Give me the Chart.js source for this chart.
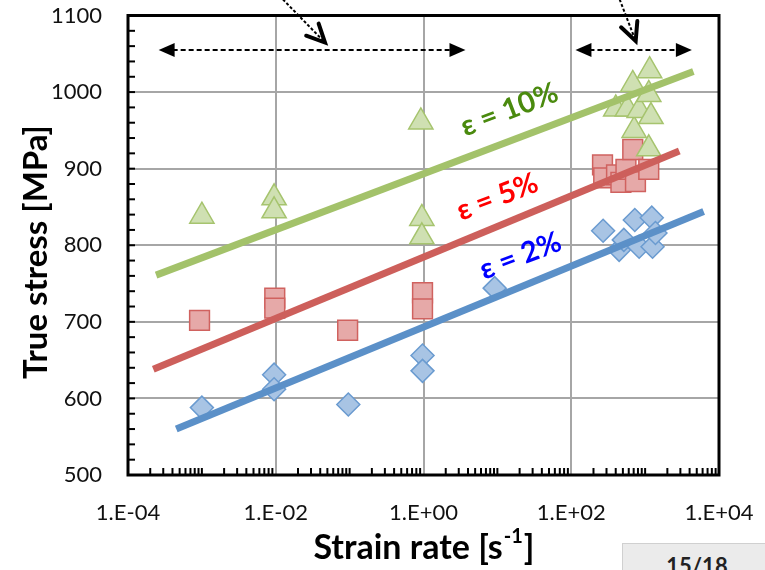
<!DOCTYPE html>
<html>
<head>
<meta charset="utf-8">
<script src="https://cdn.jsdelivr.net/npm/chart.js@4.4.1/dist/chart.umd.min.js"></script>
<style>
  html, body { margin: 0; padding: 0; background: #fff; }
  #cadre { position: relative; width: 765px; height: 570px; overflow: hidden; }
  #numeroPage {
    position: absolute; left: 622px; top: 543px; width: 150px; height: 40px;
    box-sizing: border-box; background: #ebebeb; border: 1px solid #d0d0d0;
    font: bold 22px Lato, sans-serif; color: #222; text-align: center; padding-top: 8px;
  }
</style>
</head>
<body>
<div id="cadre">
  <canvas id="myChartContrainte" width="765" height="570"></canvas>
  <div id="numeroPage">15/18</div>
</div>
<script>
//? Données (vitesse de déformation en s-1, contrainte en MPa).

//? ε = 2 % : losanges bleus.
const vitesse2 = [0.001, 0.0095, 0.0095, 0.096, 0.97, 0.97, 9.2, 270, 445, 515, 725, 830, 1230, 1260, 1380];
const contrainte2 = [588, 631, 612, 592, 656, 636, 744, 819, 794, 807, 833, 798, 836, 798, 816];

//? ε = 5 % : carrés rouges.
const vitesse5 = [0.00093, 0.0097, 0.0097, 0.094, 0.97, 0.97, 265, 275, 410, 470, 550, 680, 740, 1120];
const contrainte5 = [702, 731, 718, 689, 738, 717, 905, 888, 892, 882, 899, 925, 883, 899];

//? ε = 10 % : triangles verts.
const vitesse10 = [0.001, 0.0095, 0.0095, 0.92, 0.95, 0.95, 400, 575, 680, 710, 830, 1120, 1120, 1150, 1200];
const contrainte10 = [838, 862, 845, 961, 835, 811, 978, 978, 1010, 950, 976, 997, 926, 1028, 968];

//? Droites de tendance (deux extrémités).
const droiteVitesse2 = [4.5e-4, 6200];
const droiteContrainte2 = [560, 844];
const droiteVitesse5 = [2.2e-4, 2900];
const droiteContrainte5 = [638, 923];
const droiteVitesse10 = [2.4e-4, 4500];
const droiteContrainte10 = [761, 1027];

//? Graduations.
const graduationsX = [1e-4, 1e-2, 1, 1e2, 1e4];
const etiquettesX = ["1.E-04", "1.E-02", "1.E+00", "1.E+02", "1.E+04"];
const graduationsY = [500, 600, 700, 800, 900, 1000, 1100];

//? Annotations (en coordonnées de données).
const etiquettesCourbes = ["ε = 10%", "ε = 5%", "ε = 2%"];
const etiquettesVitesse = [14.5, 10, 20.6];
const etiquettesContrainte = [977, 863, 786];
const flechesDoublesDebut = [2.6e-4, 114];
const flechesDoublesFin = [3.7, 4290];
const flechesDoublesContrainte = 1055;
const flechesObliquesDepartX = [0.0125, 452];
const flechesObliquesPointeX = [0.0464, 745];
const flechesObliquesDepartY = [1121, 1121];
const flechesObliquesPointeY = [1064.7, 1066.7];

//? -------------------------------------------------

const versPoints = (xs, ys) => xs.map((x, i) => ({ x, y: ys[i] }));

const police = "Lato, 'Open Sans', sans-serif";

//? Plugin : cadre, petites graduations, flèches, textes et titres d'axes.
const pluginDecor = {
  id: "decor",
  afterDraw(chart) {
    const { ctx, chartArea: zone, scales } = chart;
    const sx = scales.x;
    const sy = scales.y;
    ctx.save();

    const trait = (x1, y1, x2, y2) => {
      ctx.beginPath();
      ctx.moveTo(x1, y1);
      ctx.lineTo(x2, y2);
      ctx.stroke();
    };

    //? Petites graduations vers l'intérieur.
    ctx.strokeStyle = "#000";
    ctx.lineWidth = 2;
    for (let v = 500; v <= 1100; v += 20) {
      const py = sy.getPixelForValue(v);
      trait(zone.left, py, zone.left + 7, py);
    }
    for (let k = -4; k < 4; k++) {
      for (let n = 1; n <= 9; n++) {
        if (n === 1 && k % 2 === 0) continue;
        const px = sx.getPixelForValue(n * Math.pow(10, k));
        trait(px, zone.bottom, px, zone.bottom - 7);
      }
    }

    //? Cadre noir.
    ctx.lineWidth = 3;
    ctx.strokeRect(zone.left, zone.top, zone.right - zone.left, zone.bottom - zone.top);

    //? Flèches doubles en tirets.
    const pyF = sy.getPixelForValue(flechesDoublesContrainte);
    flechesDoublesDebut.forEach((debut, i) => {
      const x1 = sx.getPixelForValue(debut);
      const x2 = sx.getPixelForValue(flechesDoublesFin[i]);
      ctx.lineWidth = 2;
      ctx.setLineDash([5, 3]);
      trait(x1 + 14, pyF, x2 - 14, pyF);
      ctx.setLineDash([]);
      ctx.fillStyle = "#000";
      ctx.beginPath();
      ctx.moveTo(x1, pyF);
      ctx.lineTo(x1 + 16, pyF - 7);
      ctx.lineTo(x1 + 16, pyF + 7);
      ctx.closePath();
      ctx.fill();
      ctx.beginPath();
      ctx.moveTo(x2, pyF);
      ctx.lineTo(x2 - 16, pyF - 7);
      ctx.lineTo(x2 - 16, pyF + 7);
      ctx.closePath();
      ctx.fill();
    });

    //? Flèches obliques pointillées venant du haut.
    flechesObliquesDepartX.forEach((depart, i) => {
      const x1 = sx.getPixelForValue(depart);
      const y1 = sy.getPixelForValue(flechesObliquesDepartY[i]);
      const x2 = sx.getPixelForValue(flechesObliquesPointeX[i]);
      const y2 = sy.getPixelForValue(flechesObliquesPointeY[i]);
      ctx.lineWidth = 2;
      ctx.setLineDash([3, 2]);
      trait(x1, y1, x2, y2);
      ctx.setLineDash([]);
      const angle = Math.atan2(y2 - y1, x2 - x1);
      ctx.lineWidth = 4;
      ctx.lineCap = "round";
      ctx.lineJoin = "miter";
      ctx.beginPath();
      ctx.moveTo(x2 - 20 * Math.cos(angle - 0.45), y2 - 20 * Math.sin(angle - 0.45));
      ctx.lineTo(x2, y2);
      ctx.lineTo(x2 - 20 * Math.cos(angle + 0.45), y2 - 20 * Math.sin(angle + 0.45));
      ctx.stroke();
      ctx.lineCap = "butt";
    });

    //? Étiquettes des courbes.
    const couleursTextes = ["#4a8a0e", "#ff0000", "#0000ff"];
    etiquettesCourbes.forEach((texte, i) => {
      const px = sx.getPixelForValue(etiquettesVitesse[i]);
      const py = sy.getPixelForValue(etiquettesContrainte[i]);
      ctx.save();
      ctx.translate(px, py);
      ctx.rotate(-21 * Math.PI / 180);
      ctx.font = "bold 29px " + police;
      ctx.fillStyle = couleursTextes[i];
      ctx.textAlign = "center";
      ctx.textBaseline = "middle";
      ctx.fillText(texte, 0, 0);
      ctx.restore();
    });

    //? Titres des axes.
    ctx.fillStyle = "#000";
    ctx.font = "bold 33px " + police;
    ctx.textBaseline = "middle";
    ctx.save();
    ctx.translate(36, 252);
    ctx.rotate(-Math.PI / 2);
    ctx.textAlign = "center";
    ctx.fillText("True stress [MPa]", 0, 0);
    ctx.restore();

    const debutTitre = "Strain rate [s";
    const exposant = "-1";
    const finTitre = "]";
    ctx.font = "bold 34px " + police;
    const l1 = ctx.measureText(debutTitre).width;
    const l3 = ctx.measureText(finTitre).width;
    ctx.font = "bold 20px " + police;
    const l2 = ctx.measureText(exposant).width;
    let xt = 423 - (l1 + l2 + l3) / 2;
    const yt = 548;
    ctx.textAlign = "left";
    ctx.font = "bold 34px " + police;
    ctx.fillText(debutTitre, xt, yt);
    xt += l1 + 1;
    ctx.font = "bold 20px " + police;
    ctx.fillText(exposant, xt, yt - 11);
    xt += l2 + 1;
    ctx.font = "bold 34px " + police;
    ctx.fillText(finTitre, xt, yt);

    ctx.restore();
  },
};

//? -------------------------------------------------

//? Construction du graphique.

const constructionDuGraphique = () => {
  try {
    const ctxContrainte = document.getElementById("myChartContrainte").getContext("2d");

    const droite = (xs, ys, couleur) => ({
      type: "line",
      data: versPoints(xs, ys),
      borderColor: couleur,
      backgroundColor: couleur,
      borderWidth: 7,
      pointRadius: 0,
      showLine: true,
      fill: false,
      order: 0,
    });

    const nuage = (xs, ys, forme, rayon, fond, bord, ordre) => ({
      type: "scatter",
      data: versPoints(xs, ys),
      pointStyle: forme,
      pointRadius: rayon,
      pointHoverRadius: rayon,
      backgroundColor: fond,
      borderColor: bord,
      pointBorderWidth: 1.5,
      order: ordre,
    });

    const data = {
      datasets: [
        droite(droiteVitesse10, droiteContrainte10, "#a3c26a"),
        droite(droiteVitesse5, droiteContrainte5, "#cd5f5b"),
        droite(droiteVitesse2, droiteContrainte2, "#5b90c8"),
        nuage(vitesse10, contrainte10, "triangle", 14, "#cfe0b2", "#a6c46e", 1),
        nuage(vitesse5, contrainte5, "rect", 14, "#e6a9a8", "#d0625f", 2),
        nuage(vitesse2, contrainte2, "rectRot", 11.5, "#a8c4e4", "#6a9bd0", 3),
      ],
    };

    const options = {
      responsive: false,
      animation: { duration: 0 },
      layout: { padding: { left: 0, right: 46, top: 15, bottom: 0 } },
      plugins: { legend: { display: false }, tooltip: { enabled: false } },
      scales: {
        x: {
          type: "logarithmic",
          min: 1e-4,
          max: 1e4,
          afterBuildTicks: (scale) => {
            scale.ticks = graduationsX.map((value) => ({ value }));
          },
          afterFit: (scale) => {
            scale.height = 95;
            scale.paddingLeft = 0;
            scale.paddingRight = 0;
          },
          border: { display: false },
          grid: {
            drawTicks: false,
            lineWidth: 2,
            color: (c) =>
              c.tick && (c.tick.value === 1e-4 || c.tick.value === 1e4) ? "rgba(0,0,0,0)" : "#a6a6a6",
          },
          ticks: {
            padding: 25,
            color: "#111",
            font: { family: police, size: 22 },
            maxRotation: 0,
            autoSkip: false,
            callback: (value, index) => etiquettesX[index],
          },
        },
        y: {
          type: "linear",
          min: 500,
          max: 1100,
          afterBuildTicks: (scale) => {
            scale.ticks = graduationsY.map((value) => ({ value }));
          },
          afterFit: (scale) => {
            scale.width = 128;
            scale.paddingTop = 0;
            scale.paddingBottom = 0;
          },
          border: { display: false },
          grid: {
            drawTicks: false,
            lineWidth: 2,
            color: "#a6a6a6",
          },
          ticks: {
            padding: 26,
            color: "#111",
            font: { family: police, size: 22 },
            callback: (value) => String(value),
          },
        },
      },
    };

    new Chart(ctxContrainte, { data, options, plugins: [pluginDecor] });
  } catch (error) {
    console.log("🔴 ERREUR | Construction graphique :", error);
  }
};

constructionDuGraphique();
</script>
</body>
</html>
